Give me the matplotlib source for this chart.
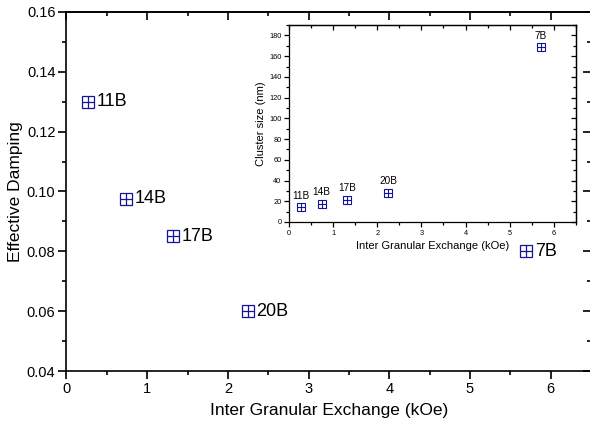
import numpy as np
import matplotlib
matplotlib.use("Agg")
import matplotlib.pyplot as plt
from matplotlib.ticker import MultipleLocator

plt.rcParams['font.family'] = ['Liberation Sans', 'DejaVu Sans']

# main panel data
samples = ['11B', '14B', '17B', '20B', '7B']
exchange = [0.27, 0.74, 1.32, 2.25, 5.70]
damping = [0.130, 0.0975, 0.085, 0.060, 0.080]

# inset data
cluster_size = [14.5, 17.8, 21.6, 28.4, 169]

blue = '#14149a'

fig = plt.figure(figsize=(5.9, 4.26), dpi=100)
ax = fig.add_axes([0.1127, 0.129, 0.889, 0.843])

def square_cross(a, x, y, ms, lw):
    a.plot(x, y, ls='none', marker='s', ms=ms, mfc='none', mec=blue, mew=lw)
    a.plot(x, y, ls='none', marker='+', ms=ms, mec=blue, mew=lw)

def style_axes(a, xmaj, xmin, ymaj, ymin, maj_len, min_len, lw, lsize):
    a.xaxis.set_major_locator(MultipleLocator(xmaj))
    a.xaxis.set_minor_locator(MultipleLocator(xmin))
    a.yaxis.set_major_locator(MultipleLocator(ymaj))
    a.yaxis.set_minor_locator(MultipleLocator(ymin))
    a.tick_params(which='major', direction='out', length=maj_len, width=lw, labelsize=lsize, pad=2)
    a.tick_params(which='minor', direction='out', length=min_len, width=lw)
    for s in a.spines.values():
        s.set_linewidth(lw)
    # mirrored ticks pointing inward
    top = a.secondary_xaxis('top')
    top.xaxis.set_major_locator(MultipleLocator(xmaj))
    top.xaxis.set_minor_locator(MultipleLocator(xmin))
    top.tick_params(which='major', direction='in', length=maj_len, width=lw, labeltop=False)
    top.tick_params(which='minor', direction='in', length=min_len, width=lw)
    top.spines['top'].set_linewidth(lw)
    right = a.secondary_yaxis('right')
    right.yaxis.set_major_locator(MultipleLocator(ymaj))
    right.yaxis.set_minor_locator(MultipleLocator(ymin))
    right.tick_params(which='major', direction='in', length=maj_len, width=lw, labelright=False)
    right.tick_params(which='minor', direction='in', length=min_len, width=lw)
    right.spines['right'].set_linewidth(lw)

square_cross(ax, exchange, damping, 9, 0.9)
for name, x, y in zip(samples, exchange, damping):
    ax.annotate(name, (x, y), xytext=(6, 0), textcoords='offset points',
                ha='left', va='center', fontsize=13)
ax.set_xlim(0, 6.5)
ax.set_ylim(0.04, 0.16)
style_axes(ax, 1, 0.5, 0.02, 0.01, 6, 3, 1.2, 10.5)
ax.set_xlabel('Inter Granular Exchange (kOe)', fontsize=12.5, labelpad=5)
ax.set_ylabel('Effective Damping', fontsize=12.5, labelpad=3)

# inset
ins = fig.add_axes([0.490, 0.479, 0.486, 0.462])
square_cross(ins, exchange, cluster_size, 6.2, 0.8)
for name, x, y in zip(samples, exchange, cluster_size):
    ins.annotate(name, (x, y), xytext=(0, 4.5), textcoords='offset points',
                 ha='center', va='bottom', fontsize=7.2)
ins.set_xlim(0, 6.5)
ins.set_ylim(0, 190)
style_axes(ins, 1, 0.5, 20, 10, 3.5, 2, 0.9, 5.3)
ins.set_xlabel('Inter Granular Exchange (kOe)', fontsize=8, labelpad=3)
ins.set_ylabel('Cluster size (nm)', fontsize=8, labelpad=2)

fig.savefig('out.png', dpi=100)
